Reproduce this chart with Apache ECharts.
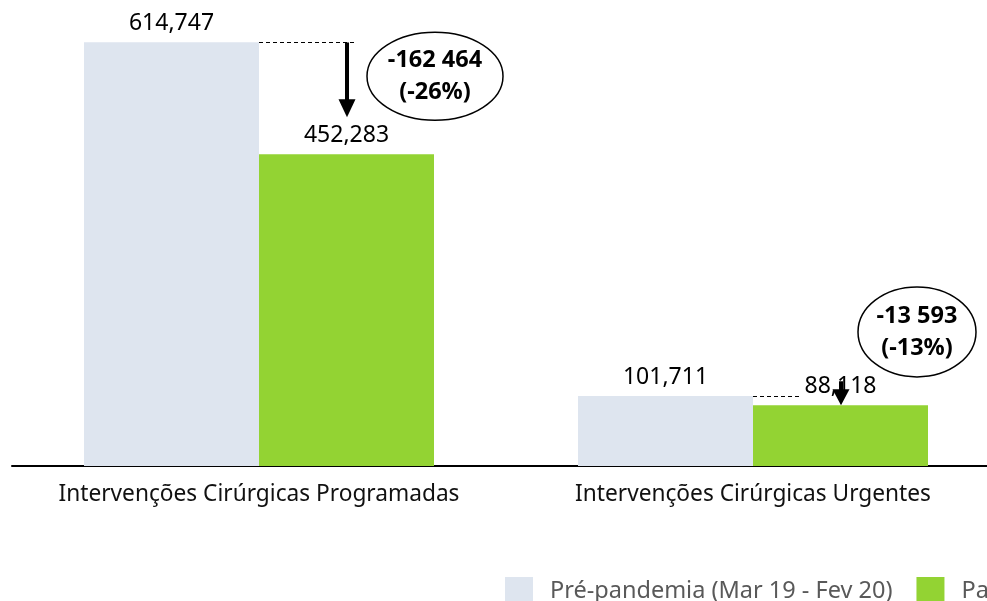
<!DOCTYPE html>
<html>
<head>
<meta charset="utf-8">
<script src="https://cdn.jsdelivr.net/npm/echarts@6/dist/echarts.min.js"></script>
<style>
  html, body { margin: 0; padding: 0; background: #fff; }
  #main { width: 987px; height: 601px; }
</style>
</head>
<body>
<div id="main"></div>
<script>
// dados
const categories = ['Intervenções Cirúrgicas Programadas', 'Intervenções Cirúrgicas Urgentes'];
const seriesNames = ['Pré-pandemia (Mar 19 - Fev 20)', 'Pandemia (Mar 20 - Fev 21)'];
const prePandemia = [614747, 101711];
const pandemia = [452283, 88118];
const diffLabels = [['-162 464', '(-26%)'], ['-13 593', '(-13%)']];

const fmt = v => v.toLocaleString('en-US');
const font = '"Noto Sans", sans-serif';

const chart = echarts.init(document.getElementById('main'));
chart.setOption({
  animation: false,
  grid: { left: 12, width: 988, top: 18, bottom: 135, outerBoundsMode: 'none', containLabel: false },
  legend: {
    left: 500, top: 572, width: 1200,
    itemWidth: 28, itemHeight: 28, itemGap: 24,
    icon: 'rect',
    textStyle: { fontFamily: font, fontSize: 23.5, color: '#595959', padding: [0, 0, 0, 12] },
    data: seriesNames
  },
  xAxis: {
    type: 'category',
    data: categories,
    axisLine: { lineStyle: { color: '#000', width: 2 } },
    axisTick: { show: false },
    axisLabel: { interval: 0, fontFamily: font, fontSize: 22.7, color: '#111', margin: 17 }
  },
  yAxis: { type: 'value', min: 0, max: 650000, show: false, splitLine: { show: false } },
  series: [
    {
      name: seriesNames[0], type: 'bar', data: prePandemia,
      barWidth: 175, barGap: '0%',
      itemStyle: { color: '#DEE5EF' },
      label: { show: true, position: 'top', distance: 7, fontFamily: font, fontSize: 23, color: '#000', formatter: p => fmt(p.value) }
    },
    {
      name: seriesNames[1], type: 'bar', data: pandemia,
      barWidth: 175,
      itemStyle: { color: '#93D333' },
      label: { show: true, position: 'top', distance: 7, fontFamily: font, fontSize: 23, color: '#000', formatter: p => fmt(p.value) }
    }
  ]
});

// anotações: linha tracejada, seta e elipse com a diferença
function annot(i, dashLen, arrowDx, arrowEndGap, headH, ell) {
  const a = chart.convertToPixel({ gridIndex: 0 }, [i, prePandemia[i]]);
  const b = chart.convertToPixel({ gridIndex: 0 }, [i, pandemia[i]]);
  const cx = a[0], y0 = Math.round(a[1]) + 0.5, y1 = b[1] - arrowEndGap;
  const ax = cx + arrowDx;
  return [
    { type: 'line', shape: { x1: cx, y1: y0, x2: cx + dashLen, y2: y0 }, style: { stroke: '#000', lineWidth: 1, lineDash: [4, 3] } },
    { type: 'line', shape: { x1: ax, y1: Math.min(y0, y1 - headH - 8), x2: ax, y2: y1 - headH + 1 }, style: { stroke: '#000', lineWidth: 4 } },
    { type: 'polygon', shape: { points: [[ax - 8.5, y1 - headH], [ax + 8.5, y1 - headH], [ax, y1]] }, style: { fill: '#000' } },
    { type: 'ellipse', shape: { cx: ell[0], cy: ell[1], rx: ell[2], ry: ell[3] }, style: { fill: '#fff', stroke: '#000', lineWidth: 1.5 } },
    { type: 'text', x: ell[0], y: ell[1] - 16, style: { text: diffLabels[i][0], fontFamily: font, fontWeight: 'bold', fontSize: 23.5, fill: '#000', align: 'center', verticalAlign: 'middle' } },
    { type: 'text', x: ell[0], y: ell[1] + 16, style: { text: diffLabels[i][1], fontFamily: font, fontWeight: 'bold', fontSize: 23.5, fill: '#000', align: 'center', verticalAlign: 'middle' } }
  ];
}

const c0 = chart.convertToPixel({ gridIndex: 0 }, [0, prePandemia[0]]);
const c1 = chart.convertToPixel({ gridIndex: 0 }, [1, prePandemia[1]]);
chart.setOption({
  graphic: [].concat(
    annot(0, 96, 88, 37, 18, [c0[0] + 176, c0[1] + 34, 68, 44]),
    annot(1, 47, 88, 0, 16, [c1[0] + 164, c1[1] - 64, 59, 45])
  )
});
</script>
</body>
</html>
